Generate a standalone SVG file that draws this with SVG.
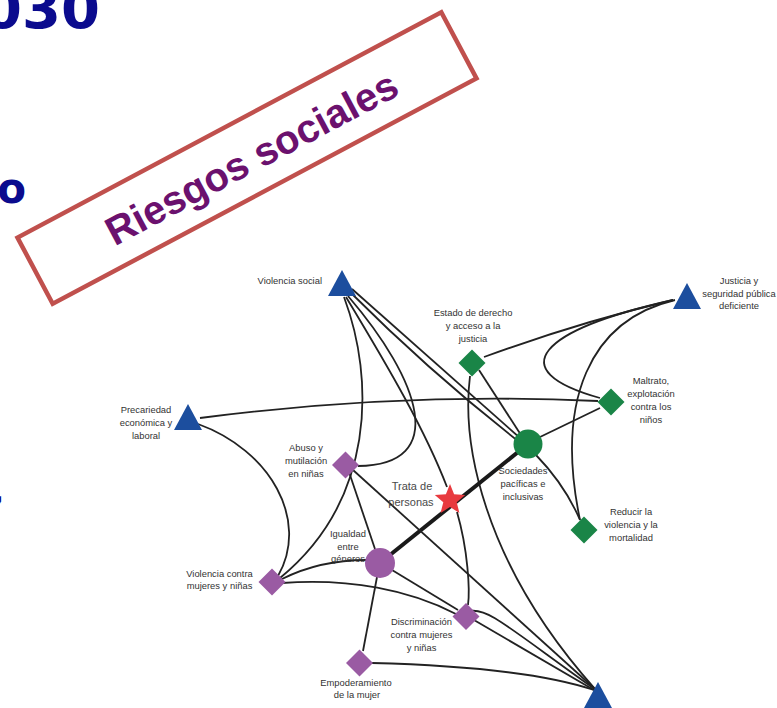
<svg xmlns="http://www.w3.org/2000/svg" xmlns:xlink="http://www.w3.org/1999/xlink" width="777" height="708" viewBox="0 0 777 708">
<style>
.e{fill:none;stroke:#222;stroke-width:1.8}
.thick{fill:none;stroke:#1a1a1a;stroke-width:4}
.blue{fill:#1C4E9E}
.green{fill:#1A8547}
.purple{fill:#9A5BA3}
.lbl{font-family:"Liberation Sans",Arial,sans-serif;font-size:9.4px;fill:#333}
.mid{text-anchor:middle}
.title{font-family:"DejaVu Sans",Verdana,sans-serif;font-weight:bold;fill:#0B0B8E}
</style>
<defs>
<path id="dia" d="M0,-13.5 L13.5,0 L0,13.5 L-13.5,0Z"/>
<path id="tri" d="M0,-13 L14,13 L-14,13Z"/>
</defs>
<rect width="777" height="708" fill="#fff"/>
<g id="title-fragments">
<text class="title" x="100" y="28" font-size="56" text-anchor="end">2030</text>
<text class="title" x="26" y="203" font-size="42" text-anchor="end">o</text>
<text class="title" x="-9" y="503" font-size="36" text-anchor="start">,</text>
</g>
<g id="banner" transform="translate(247,158) rotate(-28)">
<rect x="-240" y="-37.5" width="480" height="75" fill="#fff" stroke="#C0504D" stroke-width="4.5"/>
<text x="4" y="16" text-anchor="middle" font-family="'Liberation Sans',Arial,sans-serif" font-weight="bold" font-size="40" fill="#6B116E">Riesgos sociales</text>
</g>
<g id="edges">
<path class="e" d="M352,289 L520,438"/>
<path class="e" d="M350,292 Q430,372 518,441"/>
<path class="e" d="M348,296 C420,380 450,465 358,466"/>
<path class="e" d="M344,297 C375,380 375,500 280,578"/>
<path class="e" d="M346,297 C390,370 425,430 447,487"/>
<path class="e" d="M479,370 L521,435"/>
<path class="e" d="M484,357 Q580,322 673,300"/>
<path class="e" d="M470,376 C462,440 480,560 596,690"/>
<path class="e" d="M673,300 C540,330 500,370 600,398"/>
<path class="e" d="M675,300 C590,320 555,400 580,520"/>
<path class="e" d="M200,418 Q400,392 598,401"/>
<path class="e" d="M600,408 L540,437"/>
<path class="e" d="M536,455 Q565,485 580,520"/>
<path class="thick" d="M528,444 L380,563"/>
<path class="e" d="M198,424 C270,450 310,520 278,576"/>
<path class="e" d="M282,579 Q320,560 366,560"/>
<path class="e" d="M282,583 C350,578 410,590 456,614"/>
<path class="e" d="M392,570 L458,610"/>
<path class="e" d="M377,577 L363,651"/>
<path class="e" d="M349,472 L375,549"/>
<path class="e" d="M353,470 L594,688"/>
<path class="e" d="M457,512 C468,550 470,590 468,605"/>
<path class="e" d="M470,611 C488,608 505,625 596,690"/>
<path class="e" d="M474,620 L594,690"/>
<path class="e" d="M372,663 C450,665 540,672 594,690"/>
</g>
<g id="n-violencia-social"><use href="#tri" x="342" y="283" class="blue"/><text class="lbl" x="322" y="284" text-anchor="end">Violencia social</text></g>
<g id="n-justicia"><use href="#tri" x="687" y="296" class="blue"/><text class="lbl mid" x="739" y="284">Justicia y</text><text class="lbl mid" x="739" y="297">seguridad pública</text><text class="lbl mid" x="739" y="309">deficiente</text></g>
<g id="n-precariedad"><use href="#tri" x="188" y="417" class="blue"/><text class="lbl mid" x="146" y="413">Precariedad</text><text class="lbl mid" x="146" y="426">económica y</text><text class="lbl mid" x="146" y="439">laboral</text></g>
<g id="n-bottom"><use href="#tri" x="598" y="695" class="blue"/></g>
<g id="n-estado"><use href="#dia" x="472" y="363" class="green"/><text class="lbl mid" x="473" y="316">Estado de derecho</text><text class="lbl mid" x="473" y="329">y acceso a la</text><text class="lbl mid" x="473" y="342">justicia</text></g>
<g id="n-maltrato"><use href="#dia" x="611" y="402" class="green"/><text class="lbl mid" x="651" y="384">Maltrato,</text><text class="lbl mid" x="651" y="397">explotación</text><text class="lbl mid" x="651" y="410">contra los</text><text class="lbl mid" x="651" y="423">niños</text></g>
<g id="n-sociedades"><circle cx="528" cy="444" r="14.5" class="green"/><text class="lbl mid" x="523" y="474">Sociedades</text><text class="lbl mid" x="523" y="487">pacíficas e</text><text class="lbl mid" x="523" y="500">inclusivas</text></g>
<g id="n-reducir"><use href="#dia" x="584" y="530" class="green"/><text class="lbl mid" x="631" y="515">Reducir la</text><text class="lbl mid" x="631" y="528">violencia y la</text><text class="lbl mid" x="631" y="541">mortalidad</text></g>
<g id="n-abuso"><use href="#dia" x="345.5" y="465" class="purple"/><text class="lbl mid" x="306" y="451">Abuso y</text><text class="lbl mid" x="306" y="464">mutilación</text><text class="lbl mid" x="306" y="477">en niñas</text></g>
<g id="n-trata"><text x="412" y="490" text-anchor="middle" font-family="'Liberation Sans',Arial,sans-serif" font-size="11" fill="#4a4a4a">Trata de</text><text x="411" y="506" text-anchor="middle" font-family="'Liberation Sans',Arial,sans-serif" font-size="11" fill="#4a4a4a">personas</text><polygon points="450,484 454.1,494.3 465.2,495.1 456.7,502.2 459.4,512.9 450,507 440.6,512.9 443.3,502.2 434.8,495.1 445.9,494.3" fill="#E83A3F"/></g>
<g id="n-igualdad"><circle cx="380" cy="563" r="15" class="purple"/><text class="lbl mid" x="348" y="537">Igualdad</text><text class="lbl mid" x="348" y="549.5">entre</text><text class="lbl mid" x="348" y="562">géneros</text></g>
<g id="n-vcm"><use href="#dia" x="272" y="582" class="purple"/><text class="lbl mid" x="219.5" y="577">Violencia contra</text><text class="lbl mid" x="219.5" y="589">mujeres y niñas</text></g>
<g id="n-discriminacion"><use href="#dia" x="466" y="616.5" class="purple"/><text class="lbl mid" x="421.5" y="625">Discriminación</text><text class="lbl mid" x="421.5" y="638">contra mujeres</text><text class="lbl mid" x="421.5" y="651">y niñas</text></g>
<g id="n-empoderamiento"><use href="#dia" x="359.5" y="663" class="purple"/><text class="lbl mid" x="356" y="686">Empoderamiento</text><text class="lbl mid" x="357" y="698">de la mujer</text></g>
</svg>
